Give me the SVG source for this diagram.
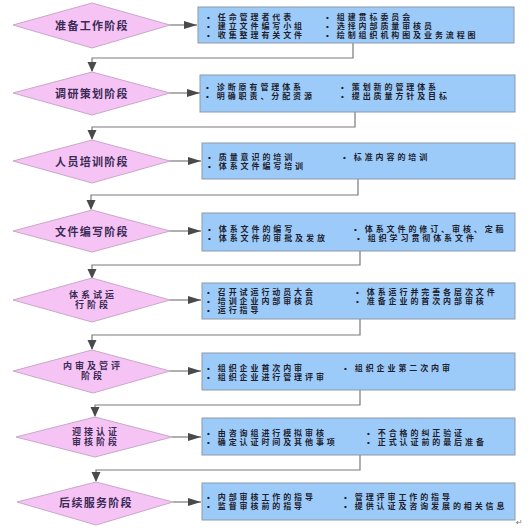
<svg xmlns="http://www.w3.org/2000/svg" width="530" height="531" viewBox="0 0 530 531">
<style>
.dia{fill:#F6C4F4;stroke:#C8A8C8;stroke-width:1}
.box{fill:#9CCBFA;stroke:#8E9AA8;stroke-width:1}
.dt{font-family:"Liberation Sans","Noto Sans CJK SC",sans-serif;font-size:11px;font-weight:bold;fill:#3A2A55;text-anchor:middle;letter-spacing:1.3px}
.d2{font-family:"Liberation Sans","Noto Sans CJK SC",sans-serif;font-size:9px;font-weight:bold;fill:#3A2A55;text-anchor:middle;letter-spacing:3px}
.bt{font-family:"Liberation Sans","Noto Sans CJK SC",sans-serif;font-size:8px;font-weight:bold;fill:#1E1E2E;letter-spacing:2.9px}
.cn{fill:none;stroke:#7A7A7A;stroke-width:1.2}
</style>
<defs>
<marker id="ah" markerUnits="userSpaceOnUse" markerWidth="14" markerHeight="10" refX="13" refY="5" orient="auto">
<path d="M0,1 L13,5 L0,9 Z" fill="#4A4A4A"/>
</marker>
<marker id="av" markerUnits="userSpaceOnUse" markerWidth="10" markerHeight="12" refX="9" refY="5" orient="auto">
<path d="M0,0.5 L10,5 L0,9.5 Z" fill="#4A4A4A"/>
</marker>
</defs>
<rect width="530" height="531" fill="#FFFFFF"/>
<g id="connectors">
<path class="cn" d="M170,25 H197" marker-end="url(#ah)"/>
<path class="cn" d="M353,43 V58 H92 V71" marker-end="url(#av)"/>
<path class="cn" d="M170,93 H200" marker-end="url(#ah)"/>
<path class="cn" d="M355,112 V127 H92 V139" marker-end="url(#av)"/>
<path class="cn" d="M170,161 H201" marker-end="url(#ah)"/>
<path class="cn" d="M358,179 V195 H91 V209" marker-end="url(#av)"/>
<path class="cn" d="M170,231 H201" marker-end="url(#ah)"/>
<path class="cn" d="M360,251 V265 H92 V278" marker-end="url(#av)"/>
<path class="cn" d="M170,300 H201" marker-end="url(#ah)"/>
<path class="cn" d="M360,319 V335 H92 V349" marker-end="url(#av)"/>
<path class="cn" d="M170,371 H201" marker-end="url(#ah)"/>
<path class="cn" d="M360,390 V405 H95 V416" marker-end="url(#av)"/>
<path class="cn" d="M172,437 H201" marker-end="url(#ah)"/>
<path class="cn" d="M360,455 V470 H96 V481" marker-end="url(#av)"/>
<path class="cn" d="M173,502 H201" marker-end="url(#ah)"/>
</g>
<g id="n1">
<polygon class="dia" points="13,25 92,3 170,25 92,48"/>
<text class="dt" x="92" y="30">准备工作阶段</text>
</g>
<g id="b1">
<rect class="box" x="198" y="7" width="316" height="36"/>
<text class="bt" y="19.5"><tspan x="207">• 任命管理者代表</tspan><tspan x="207" dy="9">• 建立文件编写小组</tspan><tspan x="207" dy="9">• 收集整理有关文件</tspan></text>
<text class="bt" y="19.5"><tspan x="326">• 组建贯标委员会</tspan><tspan x="326" dy="9">• 选择内部质量审核员</tspan><tspan x="326" dy="9">• 绘制组织机构图及业务流程图</tspan></text>
</g>
<g id="n2">
<polygon class="dia" points="13,93 92,72 170,93 92,115"/>
<text class="dt" x="92" y="98">调研策划阶段</text>
</g>
<g id="b2">
<rect class="box" x="200" y="75" width="315" height="37"/>
<text class="bt" y="89.5"><tspan x="206">• 诊断原有管理体系</tspan><tspan x="206" dy="9.5">• 明确职责、分配资源</tspan></text>
<text class="bt" y="89.5"><tspan x="341">• 策划新的管理体系</tspan><tspan x="341" dy="9.5">• 提出质量方针及目标</tspan></text>
</g>
<g id="n3">
<polygon class="dia" points="13,161 92,140 170,161 92,183"/>
<text class="dt" x="92" y="166">人员培训阶段</text>
</g>
<g id="b3">
<rect class="box" x="202" y="143" width="313" height="36"/>
<text class="bt" y="159.5"><tspan x="208">• 质量意识的培训</tspan><tspan x="208" dy="9">• 体系文件编写培训</tspan></text>
<text class="bt" x="343" y="159.5">• 标准内容的培训</text>
</g>
<g id="n4">
<polygon class="dia" points="13,231 92,210 170,231 92,252"/>
<text class="dt" x="92" y="236">文件编写阶段</text>
</g>
<g id="b4">
<rect class="box" x="202" y="213" width="313" height="38"/>
<text class="bt" y="231.5"><tspan x="208">• 体系文件的编写</tspan><tspan x="208" dy="9">• 体系文件的审批及发放</tspan></text>
<text class="bt" y="231.5"><tspan x="354">• 体系文件的修订、审核、定稿</tspan><tspan x="357" dy="9">• 组织学习贯彻体系文件</tspan></text>
</g>
<g id="n5">
<polygon class="dia" points="13,300 92,278 170,300 92,322"/>
<text class="d2" y="297.5"><tspan x="93">体系试运</tspan><tspan x="93" dy="10.5">行阶段</tspan></text>
</g>
<g id="b5">
<rect class="box" x="202" y="283" width="313" height="36"/>
<text class="bt" y="295"><tspan x="207">• 召开试运行动员大会</tspan><tspan x="207" dy="9">• 培训企业内部审核员</tspan><tspan x="207" dy="9">• 运行指导</tspan></text>
<text class="bt" y="295"><tspan x="356">• 体系运行并完善各层次文件</tspan><tspan x="356" dy="9">• 准备企业的首次内部审核</tspan></text>
</g>
<g id="n6">
<polygon class="dia" points="13,371 92,350 170,371 93,393"/>
<text class="d2" y="368.5"><tspan x="93">内审及管评</tspan><tspan x="93" dy="10.5">阶段</tspan></text>
</g>
<g id="b6">
<rect class="box" x="202" y="353" width="313" height="37"/>
<text class="bt" y="370.5"><tspan x="207">• 组织企业首次内审</tspan><tspan x="207" dy="9">• 组织企业进行管理评审</tspan></text>
<text class="bt" x="344" y="370.5">• 组织企业第二次内审</text>
</g>
<g id="n7">
<polygon class="dia" points="16,437 95,417 172,437 95,457"/>
<text class="d2" y="434.5"><tspan x="96">迎接认证</tspan><tspan x="96" dy="10.5">审核阶段</tspan></text>
</g>
<g id="b7">
<rect class="box" x="202" y="418" width="313" height="37"/>
<text class="bt" y="435.5"><tspan x="207">• 由咨询组进行模拟审核</tspan><tspan x="207" dy="9">• 确定认证时间及其他事项</tspan></text>
<text class="bt" y="435.5"><tspan x="367">• 不合格的纠正验证</tspan><tspan x="367" dy="9">• 正式认证前的最后准备</tspan></text>
</g>
<g id="n8">
<polygon class="dia" points="17,502 96,482 173,502 96,525"/>
<text class="dt" x="96" y="507">后续服务阶段</text>
</g>
<g id="b8">
<rect class="box" x="202" y="483" width="313" height="37"/>
<text class="bt" y="499.5"><tspan x="207">• 内部审核工作的指导</tspan><tspan x="207" dy="9">• 监督审核前的指导</tspan></text>
<text class="bt" y="499.5"><tspan x="344">• 管理评审工作的指导</tspan><tspan x="344" dy="9">• 提供认证及咨询发展的相关信息</tspan></text>
<text x="516" y="525" font-family="DejaVu Sans,sans-serif" font-size="8" fill="#777">↵</text>
</g>
</svg>
